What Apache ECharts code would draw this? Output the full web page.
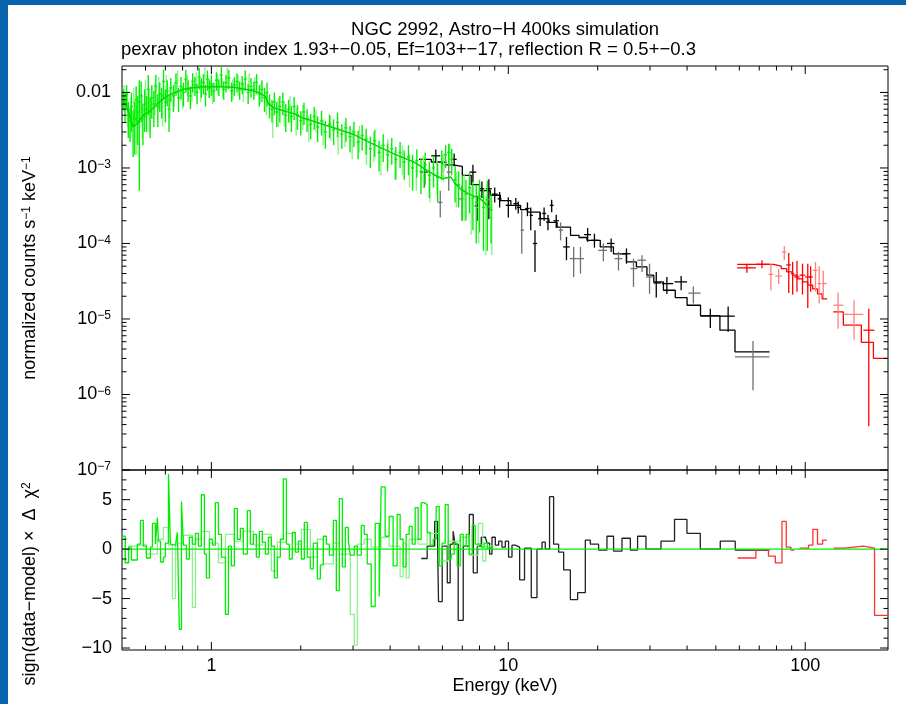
<!DOCTYPE html>
<html lang="en">
<head>
<meta charset="UTF-8">
<title>NGC 2992, Astro-H 400ks simulation</title>
<script src="https://cdn.jsdelivr.net/npm/echarts@6/dist/echarts.min.js"></script>
<style>
  html, body { margin: 0; padding: 0; background: #fff; }
  #main { width: 906px; height: 704px; }
</style>
</head>
<body>
<div id="main"></div>
<script>
// ---- values ----
// soft band (green), flux and 1-sigma error in units of 1e-3 counts/s/keV
var greenE = [0.505,0.512,0.518,0.525,0.532,0.538,0.545,0.552,0.558,0.565,
  0.572,0.58,0.588,0.596,0.605,0.613,0.622,0.63,0.64,0.65,
  0.66,0.67,0.68,0.69,0.70,0.71,0.72,0.73,0.745,0.76,
  0.775,0.79,0.805,0.82,0.835,0.85,0.865,0.88,0.895,0.91,
  0.925,0.94,0.955,0.97,0.985,1.0,1.02,1.04,1.06,1.08,
  1.10,1.12,1.145,1.17,1.195,1.22,1.245,1.27,1.30,1.33,
  1.36,1.39,1.42,1.45,1.48,1.51,1.54,1.57,1.60,1.63,
  1.66,1.70,1.74,1.78,1.82,1.86,1.90,1.95,2.0,2.05,
  2.10,2.16,2.22,2.28,2.35,2.42,2.50,2.58,2.66,2.75,
  2.84,2.93,3.02,3.12,3.22,3.32,3.43,3.55,3.67,3.79,
  3.92,4.05,4.18,4.32,4.46,4.61,4.76,4.92,5.08,5.25,
  5.42,5.6,5.78,5.97,6.15,6.3,6.45,6.62,6.8,7.0,
  7.2,7.4,7.6,7.8,8.0,8.25,8.5,8.75];
var greenF = [8.5,7.0,9.5,5.0,4.2,6.5,3.6,4.5,8.0,5.5,
  7.5,9.0,4.5,7.0,6.0,11.0,5.5,8.5,7.0,12.0,
  6.5,9.5,8.0,14.0,7.5,10.5,6.0,11.5,9.0,13.5,
  8.5,12.0,10.0,15.0,11.0,9.0,14.0,12.5,10.0,16.0,
  12.0,13.5,9.5,15.0,11.5,13.0,10.5,14.5,12.0,17.0,
  11.0,13.5,15.5,10.5,12.5,14.0,11.0,13.0,15.0,10.0,
  12.0,11.0,13.5,9.5,11.0,8.5,10.0,7.0,6.0,7.5,
  5.5,6.5,7.5,5.0,6.0,4.8,6.5,5.0,4.2,5.5,
  4.5,3.8,4.8,3.5,4.2,3.0,3.8,3.2,4.0,2.8,
  3.4,2.6,3.0,2.2,2.7,2.4,1.8,2.3,1.6,2.0,
  1.5,1.8,1.3,1.6,1.2,1.4,1.0,1.25,0.9,1.1,
  0.8,1.0,0.75,1.2,1.5,1.6,1.3,0.7,0.6,0.5,
  0.45,0.55,0.4,0.35,0.42,0.3,0.38,0.28];
var greenErr = [2.5,3.0,3.0,2.5,2.0,3.5,2.2,3.0,4.0,3.5,
  7.0,5.0,2.5,4.0,3.0,6.0,3.0,4.0,3.5,5.0,
  3.0,4.0,3.5,6.0,3.5,4.0,3.0,4.0,3.5,4.5,
  3.0,4.0,3.5,5.0,3.5,3.0,4.0,3.5,3.0,5.0,
  3.5,4.0,3.0,4.5,3.0,4.0,3.0,4.0,3.0,5.0,
  3.0,3.5,4.5,3.0,3.5,4.0,3.0,3.5,4.5,3.0,
  3.5,3.0,4.0,3.0,3.5,3.0,3.5,2.5,2.0,2.5,
  2.0,2.5,2.5,2.0,2.0,1.8,2.2,1.8,1.5,1.8,
  1.5,1.4,1.6,1.3,1.5,1.2,1.3,1.2,1.4,1.0,
  1.2,1.0,1.1,0.9,1.0,0.9,0.8,0.9,0.7,0.8,
  0.6,0.7,0.6,0.6,0.5,0.6,0.5,0.5,0.45,0.5,
  0.4,0.45,0.4,0.5,0.5,0.5,0.5,0.35,0.3,0.3,
  0.25,0.3,0.25,0.25,0.28,0.22,0.3,0.18];

// second soft-band unit (pale green), same units
var paleE = [0.508,0.522,0.535,0.548,0.56,0.585,0.60,0.618,0.645,0.665,
  0.685,0.705,0.725,0.75,0.77,0.80,0.83,0.86,0.89,0.92,
  0.95,0.98,1.01,1.05,1.09,1.13,1.18,1.23,1.28,1.34,
  1.40,1.46,1.53,1.61,1.68,1.76,1.84,1.93,2.03,2.13,
  2.25,2.38,2.52,2.67,2.82,2.98,3.15,3.33,3.52,3.72,
  3.93,4.15,4.4,4.65,4.9,5.17,5.45,5.75,6.05,6.35,
  6.7,7.1,7.5,7.95,8.4,8.8];
var paleF = [9.0,6.5,5.5,7.5,4.0,6.0,9.5,7.0,9.0,11.0,
  6.5,12.0,8.0,10.0,14.5,9.0,13.0,10.5,14.5,11.0,
  16.5,12.0,10.0,13.5,12.0,16.0,11.5,13.0,10.5,14.0,
  12.5,10.0,7.5,5.0,6.0,5.5,6.5,4.5,5.0,3.6,
  4.4,3.2,3.6,2.6,3.0,2.3,2.6,1.9,2.1,1.4,
  1.7,1.2,1.4,1.05,0.9,1.0,0.7,0.85,1.1,1.6,
  0.6,0.5,0.35,0.3,0.25,0.22];
var paleErr = [3.5,3.0,3.0,4.0,2.5,3.5,5.0,4.0,4.0,5.0,
  3.0,5.0,3.5,3.5,5.0,3.0,4.0,3.0,4.5,3.5,
  5.0,3.5,3.0,4.0,3.5,5.0,3.5,4.0,3.0,4.0,
  3.5,3.0,2.5,2.5,2.5,2.0,2.5,1.8,1.8,1.4,
  1.5,1.2,1.3,1.1,1.1,1.0,1.0,0.8,0.9,0.6,
  0.7,0.5,0.6,0.5,0.4,0.45,0.35,0.4,0.45,0.5,
  0.3,0.3,0.22,0.2,0.18,0.15];

// soft-band model curve
var greenModelE = [0.5,0.515,0.53,0.545,0.56,0.59,0.625,0.68,0.71,0.755,0.805,0.86,0.92,1.0,1.19,1.36,1.46,1.52,1.56,1.62,1.68,1.91,2.0,2.23,2.58,3.0,3.35,4.1,4.8,5.6,6.0,6.4,6.6,6.9,7.3,8.05,8.7];
var greenModelF = [8.0e-3,7.0e-3,5.0e-3,3.5e-3,3.8e-3,5.0e-3,5.8e-3,7.9e-3,9.0e-3,1.0e-2,1.1e-2,1.15e-2,1.18e-2,1.2e-2,1.17e-2,1.07e-2,9.8e-3,8.8e-3,7.0e-3,6.3e-3,6.0e-3,5.2e-3,4.7e-3,4.1e-3,3.4e-3,2.8e-3,2.25e-3,1.55e-3,1.2e-3,8.2e-4,7.2e-4,7.6e-4,6.3e-4,5.3e-4,4.6e-4,3.9e-4,2.9e-4];

// hard X-ray, unit 1 (black)
var hxiE   = [5.2,5.7,6.05,6.57,7.6,7.85,8.15,8.6,9.0,9.35,10.0,10.6,10.8,11.6,11.9,12.3,12.8,13.2,13.6,14.0,14.5,15.7,18.5,19.5,22.2,25.0,31.5,34.2,38.2,47.9,55.0];
var hxiElo = [5.05,5.5,5.9,6.45,7.4,7.7,8.0,8.4,8.8,9.2,9.8,10.4,10.7,11.4,11.8,12.1,12.6,13.0,13.4,13.8,14.2,15.3,18.0,19.0,21.5,24.2,30.8,32.9,36.3,44.4,51.6];
var hxiEhi = [5.35,5.9,6.2,6.7,7.8,8.0,8.3,8.8,9.2,9.5,10.2,10.8,11.0,11.8,12.1,12.5,13.0,13.4,13.8,14.2,14.8,16.1,19.0,20.1,22.8,25.8,32.7,35.9,40.0,51.6,57.9];
var hxiF   = [8.8e-4,1.45e-3,1.19e-3,1.3e-3,8.8e-4,3.15e-4,5.3e-4,5.3e-4,4.5e-4,3.9e-4,3.2e-4,3.37e-4,3.0e-4,2.9e-4,2.36e-4,1.0e-4,2.13e-4,2.5e-4,1.92e-4,3.2e-4,2.0e-4,9.0e-5,1.31e-4,1.1e-4,1.0e-4,7.3e-5,3.0e-5,2.94e-5,3.1e-5,1.1e-5,1.09e-5];
var hxiFlo = [5.5e-4,1.15e-3,9.0e-4,1.05e-3,6.5e-4,2.0e-4,4.0e-4,2.1e-4,3.5e-4,3.0e-4,2.2e-4,2.8e-4,2.5e-4,2.3e-4,1.5e-4,4.2e-5,1.7e-4,2.0e-4,1.5e-4,2.6e-4,1.6e-4,6.0e-5,1.05e-4,8.8e-5,7.7e-5,5.4e-5,1.93e-5,2.15e-5,2.4e-5,7.6e-6,6.8e-6];
var hxiFhi = [1.2e-3,1.75e-3,1.5e-3,1.55e-3,1.1e-3,4.3e-4,6.6e-4,7.1e-4,5.5e-4,4.8e-4,4.1e-4,4.0e-4,3.6e-4,3.5e-4,3.0e-4,1.5e-4,2.6e-4,3.0e-4,2.4e-4,3.8e-4,2.4e-4,1.22e-4,1.6e-4,1.35e-4,1.16e-4,8.6e-5,4.2e-5,3.6e-5,3.7e-5,1.37e-5,1.46e-5];

// hard X-ray, unit 2 (grey)
var hxi2E   = [6.3,5.9,6.98,11.1,15.0,16.6,17.5,20.9,23.5,26.4,28.2,29.9,42.0,66.7];
var hxi2Elo = [6.2,5.8,6.8,11.0,14.8,16.1,17.1,20.1,22.8,25.8,27.2,29.1,40.4,58.0];
var hxi2Ehi = [6.45,6.0,7.15,11.3,15.3,17.1,18.0,21.5,24.2,27.2,29.1,30.8,44.4,75.8];
var hxi2F   = [8.8e-4,3.5e-4,3.9e-4,1.5e-4,1.5e-4,6.3e-5,6.3e-5,8.1e-5,6.3e-5,4.65e-5,6.0e-5,3.6e-5,2.2e-5,3.15e-6];
var hxi2Flo = [5.0e-4,2.2e-4,2.0e-4,7.3e-5,1.1e-4,3.6e-5,4.0e-5,5.8e-5,4.4e-5,2.66e-5,4.2e-5,2.15e-5,1.6e-5,1.14e-6];
var hxi2Fhi = [1.25e-3,5.0e-4,5.8e-4,2.75e-4,1.9e-4,9.0e-5,9.0e-5,1.0e-4,7.7e-5,6.3e-5,7.0e-5,5.4e-5,2.7e-5,5.1e-6];

// hard X-ray model (bin edges, value per bin)
var hxiModelEdges = [5.0,5.5,6.0,6.5,7.0,7.5,8.0,8.7,9.4,10.2,11.0,11.6,12.8,13.7,14.6,16.2,17.3,18.4,20.4,22.6,25.0,27.0,29.3,30.9,33.3,36.5,40.0,44.4,51.6,58.0,75.8];
var hxiModelF = [1.3e-3,1.2e-3,1.1e-3,1.05e-3,8.0e-4,6.0e-4,5.0e-4,4.35e-4,3.7e-4,3.2e-4,2.8e-4,2.6e-4,2.13e-4,1.9e-4,1.65e-4,1.28e-4,1.2e-4,1.1e-4,9.0e-5,7.3e-5,5.7e-5,4.9e-5,3.8e-5,3.1e-5,2.4e-5,1.92e-5,1.52e-5,1.1e-5,7.1e-6,3.67e-6];

// soft gamma-ray (red / pale red)
var sgdE   = [63.6,71.5,88.0,90.7,93.8,97.9,102,104.3,163.7];
var sgdElo = [59.0,68.2,86.3,89.5,91.8,95.7,100,103,157];
var sgdEhi = [68.2,75.6,89.5,91.8,95.7,100,104,106,171];
var sgdF   = [4.75e-5,5.3e-5,5.2e-5,4.0e-5,3.6e-5,3.8e-5,3.6e-5,3.6e-5,7.1e-6];
var sgdFlo = [4.1e-5,4.7e-5,2.2e-5,2.1e-5,2.3e-5,2.1e-5,1.4e-5,2.3e-5,3.8e-7];
var sgdFhi = [5.4e-5,6.0e-5,7.5e-5,5.7e-5,5.9e-5,5.4e-5,5.4e-5,5.0e-5,1.37e-5];

var sgd2E   = [76.6,81.4,85.0,108.3,111.4,115,129,146];
var sgd2Elo = [75.2,79.3,83.5,106,110,113.5,124.3,134.4];
var sgd2Ehi = [78.0,83.5,86.3,110,113,118.3,134.4,157];
var sgd2F   = [3.9e-5,3.7e-5,7.7e-5,4.4e-5,2.94e-5,2.94e-5,1.52e-5,1.15e-5];
var sgd2Flo = [2.4e-5,2.9e-5,6.0e-5,2.3e-5,1.6e-5,1.9e-5,7.4e-6,5.3e-6];
var sgd2Fhi = [5.4e-5,4.6e-5,9.2e-5,5.7e-5,5.0e-5,4.4e-5,2.25e-5,1.77e-5];

var sgdModelEdges = [59.0,64.0,71.0,78.3,83.0,86.6,90.5,94.0,98.0,102.0,106.0,110.0,114.0,118.5,124.3,134.4,154.5,169.7,190];
var sgdModelF = [5.3e-5,5.3e-5,5.3e-5,5.0e-5,4.65e-5,4.2e-5,3.8e-5,3.4e-5,3.1e-5,2.8e-5,2.5e-5,2.15e-5,1.85e-5,null,1.24e-5,8.3e-6,4.9e-6,3.0e-6];

// residuals: sign(data-model) x delta chi^2, per bin (edges, values)
var resGreenEdges = [0.500,0.513,0.526,0.538,0.563,0.577,0.590,0.604,0.623,0.633,
  0.648,0.658,0.663,0.674,0.689,0.700,0.717,0.728,0.739,0.757,
  0.768,0.780,0.793,0.805,0.824,0.843,0.863,0.884,0.904,0.925,
  0.947,0.962,0.985,1.008,1.031,1.056,1.081,1.115,1.141,1.168,
  1.195,1.223,1.252,1.281,1.322,1.353,1.385,1.417,1.451,1.485,
  1.520,1.556,1.592,1.630,1.668,1.707,1.747,1.789,1.830,1.873,
  1.918,1.963,2.009,2.056,2.104,2.154,2.205,2.274,2.328,2.383,
  2.439,2.496,2.575,2.635,2.697,2.761,2.826,2.892,2.937,3.029,
  3.100,3.197,3.272,3.349,3.454,3.562,3.674,3.731,3.848,3.969,
  4.094,4.222,4.322,4.424,4.528,4.635,4.744,4.856,4.970,5.087,
  5.207,5.330,5.456,5.584,5.716,5.851,5.989,6.130,6.274,6.422,
  6.573,6.728,6.887,7.049,7.215,7.385,7.560,7.737,7.920,8.106,
  8.297,8.493,8.693,8.898];
var resGreen = [1.3,-1.4,0.2,-1.1,0.5,2.9,0.3,-0.9,0.2,2.6,
  0.5,3.2,0.8,-1.3,-0.8,0.6,7.6,0.5,0.4,0.3,
  1.7,-8.1,4.8,0.4,-1.0,1.2,0.5,1.6,0.3,5.5,
  -0.5,-2.9,1.0,0.4,4.7,1.5,-0.8,-6.6,0.3,-1.7,
  4.1,1.0,2.1,-0.5,3.9,0.5,1.5,-0.8,1.8,0.7,
  -0.5,1.2,0.3,-2.9,-0.8,1.0,7.1,0.5,-1.0,1.7,
  -0.3,0.8,-1.0,2.7,-0.8,-2.0,0.6,-3.0,-1.6,1.3,
  0.5,-0.6,2.9,-4.2,5.1,-1.8,2.2,0.8,-0.6,0.3,
  -0.6,2.4,1.5,-1.5,-5.8,2.6,-4.8,6.3,1.3,3.3,
  -1.7,3.5,1.0,-1.8,1.5,2.3,0.5,4.2,1.0,4.7,
  4.5,1.7,0.4,1.0,4.3,-1.7,0.6,4.5,-1.0,-0.5,
  0.6,-1.7,1.5,0.3,1.5,-0.5,2.4,0.5,0.5,0.2,
  0.6,0.1,0.3];

var resPaleEdges = [0.500,0.513,0.526,0.563,0.604,0.658,0.689,0.717,0.739,0.757,
  0.805,0.863,0.884,0.925,0.985,1.056,1.115,1.195,1.281,1.385,
  1.485,1.592,1.668,1.789,1.918,2.009,2.154,2.274,2.383,2.575,
  2.697,2.937,3.029,3.100,3.272,3.454,3.731,3.969,4.322,4.424,
  4.528,4.635,4.970,5.330,5.851,6.274,6.887,7.385,7.920,8.200,
  8.400,8.898];
var resPale = [1.0,-1.4,0.3,0.5,-0.5,1.0,2.2,0.4,-5.0,0.6,
  1.4,-5.9,1.0,1.8,0.6,-1.4,1.5,0.8,1.8,0.4,
  1.5,-2.2,0.7,1.6,0.5,2.0,-0.8,1.0,-1.5,0.6,
  -0.5,-6.6,-9.7,0.5,1.0,0.2,1.2,0.3,-2.8,0.6,
  -2.9,1.0,0.5,1.6,-1.2,0.8,1.2,-0.6,2.6,-1.2,
  0.3];

var resHxiEdges = [5.09,5.33,5.65,5.78,5.82,5.99,6.23,6.37,6.52,6.62,
  6.78,7.05,7.39,7.62,7.86,8.11,8.37,8.48,8.65,8.81,
  9.04,9.28,9.52,9.77,10.02,10.29,10.56,10.92,11.34,11.95,
  12.49,12.99,13.32,13.77,14.21,14.77,15.36,16.18,17.12,18.17,
  18.89,20.14,21.49,22.62,24.15,25.76,27.25,29.08,32.67,36.29,
  39.96,44.32,51.74,58.12,75.84];
var resHxi = [-0.95,0.3,2.8,0.3,-5.3,0.3,-3.4,0.5,1.8,0.5,
  -7.2,0.3,3.5,-2.4,0.3,1.2,1.3,0.6,-0.5,1.2,
  0.4,0.8,0.2,0.8,-0.8,0.4,0.2,-3.1,0.1,-4.9,
  0,0.7,0,5.3,0.5,-0.3,-2.1,-5.1,-4.4,0.9,
  0.5,-0.1,1.3,-0.2,1.1,-0.1,1.3,0,0.8,3.0,
  1.6,0,0.8,-0.1];

var resSgdEdges = [59.2,68.2,75.2,79.3,83.5,86.3,89.5,91.8,95.7,102.6,106.1,110.0,114.4,118.3,124.5,135.6,157.1,171.2,190];
var resSgd = [-0.9,-0.05,-0.7,-1.4,2.8,0.2,-0.1,null,0.1,0.4,2.0,0.5,0.9,null,0.1,0.3,0.1,-6.7];

// axis ticks
var xMajorTicks = [1, 10, 100];
var xMinorTicks = [0.6,0.7,0.8,0.9,2,3,4,5,6,7,8,9,20,30,40,50,60,70,80,90];
var fluxDecades = [1e-7,1e-6,1e-5,1e-4,1e-3,1e-2];
var decadeSteps = [2,3,4,5,6,7,8,9];
var resMajorTicks = [-10,-5,0,5];
var resMinorTicks = [-9,-8,-7,-6,-4,-3,-2,-1,1,2,3,4,6,7];

var E_MIN = 0.5, E_MAX = 190, Y_MIN = 1e-7, Y_MAX = 0.0224, R_MIN = -10.2, R_MAX = 8;
var FONT = '"Liberation Sans", Arial, sans-serif';
var MINUS = '\u2212';

// ---- helpers ----
function crossItems(e, elo, ehi, f, flo, fhi) {
  return e.map(function (v, i) { return [v, elo[i], ehi[i], f[i], flo[i], fhi[i]]; });
}
function errItems(e, f, err) {
  return e.map(function (v, i) { return [v, f[i] * 1e-3, err[i] * 1e-3]; });
}
function zip(a, b) {
  return a.map(function (v, i) { return [v, b[i]]; });
}
// histogram -> points for a step:'end' line, null values leave a gap
function stepPoints(edges, vals) {
  var pts = [];
  for (var i = 0; i < vals.length; i++) {
    if (vals[i] === null) {
      if (i > 0 && vals[i - 1] !== null) pts.push([edges[i], vals[i - 1]]);
      pts.push([edges[i], null]);
    } else {
      pts.push([edges[i], vals[i]]);
    }
  }
  pts.push([edges[edges.length - 1], vals[vals.length - 1]]);
  return pts;
}
function isDecade(v) {
  var lg = Math.log10(v);
  return Math.abs(lg - Math.round(lg)) < 1e-6;
}

function crossRender(color) {
  return function (params, api) {
    var e = api.value(0), f = api.value(3);
    var flo = Math.max(api.value(4), Y_MIN), fhi = Math.min(api.value(5), Y_MAX);
    var a = api.coord([api.value(1), f]), b = api.coord([api.value(2), f]);
    var c = api.coord([e, flo]), d = api.coord([e, fhi]);
    var st = { stroke: color, lineWidth: 1.3 };
    return { type: 'group', children: [
      { type: 'line', shape: { x1: a[0], y1: a[1], x2: b[0], y2: b[1] }, style: st },
      { type: 'line', shape: { x1: c[0], y1: c[1], x2: d[0], y2: d[1] }, style: st }
    ] };
  };
}
function errRender(color) {
  return function (params, api) {
    var e = api.value(0), f = api.value(1), err = api.value(2);
    var lo = Math.max(f - err, Y_MIN), hi = Math.min(f + err, Y_MAX);
    var p = api.coord([e, f]), c = api.coord([e, lo]), d = api.coord([e, hi]);
    var st = { stroke: color, lineWidth: 1.4 };
    return { type: 'group', children: [
      { type: 'line', shape: { x1: p[0] - 1.5, y1: p[1], x2: p[0] + 1.5, y2: p[1] }, style: st },
      { type: 'line', shape: { x1: c[0], y1: c[1], x2: d[0], y2: d[1] }, style: st }
    ] };
  };
}
// inward tick marks on both opposite frame edges
function xTickRender(params, api) {
  var cs = params.coordSys;
  var p = api.coord([api.value(0), api.value(1)]);
  var len = api.value(2) ? 8 : 4.5;
  var st = { stroke: '#000', lineWidth: 1 };
  return { type: 'group', children: [
    { type: 'line', shape: { x1: p[0], y1: cs.y, x2: p[0], y2: cs.y + len }, style: st },
    { type: 'line', shape: { x1: p[0], y1: cs.y + cs.height, x2: p[0], y2: cs.y + cs.height - len }, style: st }
  ] };
}
function yTickRender(params, api) {
  var cs = params.coordSys;
  var p = api.coord([api.value(0), api.value(1)]);
  var len = api.value(2) ? 8 : 4.5;
  var st = { stroke: '#000', lineWidth: 1 };
  return { type: 'group', children: [
    { type: 'line', shape: { x1: cs.x, y1: p[1], x2: cs.x + len, y2: p[1] }, style: st },
    { type: 'line', shape: { x1: cs.x + cs.width, y1: p[1], x2: cs.x + cs.width - len, y2: p[1] }, style: st }
  ] };
}
// horizontal reference line across the whole panel at the item's y value
function zeroRender(params, api) {
  var cs = params.coordSys;
  var p = api.coord([api.value(0), api.value(1)]);
  return { type: 'line', shape: { x1: cs.x, y1: p[1], x2: cs.x + cs.width, y2: p[1] },
    style: { stroke: '#00ee00', lineWidth: 1.3 } };
}

function xTickData(yRef) {
  return xMajorTicks.map(function (v) { return [v, yRef, 1]; })
    .concat(xMinorTicks.map(function (v) { return [v, yRef, 0]; }));
}
var fluxTicks = fluxDecades.map(function (v) { return [1, v, 1]; });
fluxDecades.forEach(function (d) {
  decadeSteps.forEach(function (m) {
    if (m * d < Y_MAX) fluxTicks.push([1, m * d, 0]);
  });
});
var resTicks = resMajorTicks.map(function (v) { return [1, v, 1]; })
  .concat(resMinorTicks.map(function (v) { return [1, v, 0]; }));

var supStyle = { fontSize: 12, fontFamily: FONT, color: '#000', verticalAlign: 'top' };

var myChart = echarts.init(document.getElementById('main'));

myChart.setOption({
  animation: false,
  backgroundColor: '#fff',
  title: [{
    text: 'NGC 2992, Astro\u2212H 400ks simulation',
    left: 505, top: 20, textAlign: 'center', padding: 0,
    textStyle: { fontSize: 18.5, fontWeight: 'normal', color: '#000', fontFamily: FONT }
  }, {
    text: 'pexrav photon index 1.93+\u22120.05, Ef=103+\u221217, reflection R = 0.5+\u22120.3',
    left: 121, top: 40, padding: 0,
    textStyle: { fontSize: 18.5, fontWeight: 'normal', color: '#000', fontFamily: FONT }
  }],
  graphic: [
    { type: 'rect', shape: { x: 0, y: 0, width: 906, height: 5 }, style: { fill: '#0a63ad' } },
    { type: 'rect', shape: { x: 0, y: 0, width: 8, height: 704 }, style: { fill: '#0a63ad' } },
    { type: 'text', x: 30, y: 268, rotation: Math.PI / 2,
      style: { text: 'normalized counts s{sup|' + MINUS + '1} keV{sup|' + MINUS + '1}',
        font: '18px ' + FONT, fill: '#000', align: 'center', verticalAlign: 'middle',
        rich: { sup: supStyle } } },
    { type: 'text', x: 30, y: 584, rotation: Math.PI / 2,
      style: { text: 'sign(data' + MINUS + 'model) \u00d7  \u0394  \u03c7{sup|2}',
        font: '18px ' + FONT, fill: '#000', align: 'center', verticalAlign: 'middle',
        rich: { sup: supStyle } } }
  ],
  grid: [
    { left: 122, top: 66, width: 766, height: 404, show: true, borderColor: '#000', borderWidth: 1 },
    { left: 122, top: 470, width: 766, height: 180, show: true, borderColor: '#000', borderWidth: 1 }
  ],
  xAxis: [{
    gridIndex: 0, type: 'log', logBase: 10, min: E_MIN, max: E_MAX,
    axisLine: { show: false }, axisTick: { show: false }, axisLabel: { show: false },
    splitLine: { show: false }
  }, {
    gridIndex: 1, type: 'log', logBase: 10, min: E_MIN, max: E_MAX,
    axisLine: { show: false }, axisTick: { show: false }, splitLine: { show: false },
    axisLabel: {
      fontSize: 18, color: '#000', fontFamily: FONT, margin: 7,
      showMinLabel: false, showMaxLabel: false,
      formatter: function (v) { return isDecade(v) ? String(Math.round(v)) : ''; }
    },
    name: 'Energy (keV)', nameLocation: 'middle', nameGap: 27,
    nameTextStyle: { fontSize: 18, color: '#000', fontFamily: FONT }
  }],
  yAxis: [{
    gridIndex: 0, type: 'log', logBase: 10, min: Y_MIN, max: Y_MAX,
    axisLine: { show: false }, axisTick: { show: false }, splitLine: { show: false },
    axisLabel: {
      fontSize: 18, color: '#000', fontFamily: FONT, margin: 11,
      rich: { sup: supStyle },
      formatter: function (v) {
        if (!isDecade(v)) return '';
        var n = Math.round(Math.log10(v));
        if (n === -2) return '0.01';
        return '10{sup|' + MINUS + (-n) + '}';
      }
    }
  }, {
    gridIndex: 1, type: 'value', min: R_MIN, max: R_MAX, splitNumber: 4,
    axisLine: { show: false }, axisTick: { show: false }, splitLine: { show: false },
    axisLabel: {
      fontSize: 18, color: '#000', fontFamily: FONT, margin: 10,
      formatter: function (v) {
        if (resMajorTicks.indexOf(v) < 0) return '';
        return v < 0 ? MINUS + (-v) : String(v);
      }
    }
  }],
  series: [
    // ---- spectrum panel ----
    { type: 'line', name: 'hxi model', xAxisIndex: 0, yAxisIndex: 0, step: 'end',
      data: stepPoints(hxiModelEdges, hxiModelF), showSymbol: false, z: 2,
      lineStyle: { color: '#000', width: 1.3 } },
    { type: 'custom', name: 'hxi2', xAxisIndex: 0, yAxisIndex: 0, z: 3,
      encode: { x: 0, y: 3 }, renderItem: crossRender('#707070'),
      data: crossItems(hxi2E, hxi2Elo, hxi2Ehi, hxi2F, hxi2Flo, hxi2Fhi) },
    { type: 'custom', name: 'hxi', xAxisIndex: 0, yAxisIndex: 0, z: 3,
      encode: { x: 0, y: 3 }, renderItem: crossRender('#000'),
      data: crossItems(hxiE, hxiElo, hxiEhi, hxiF, hxiFlo, hxiFhi) },
    { type: 'line', name: 'sgd model', xAxisIndex: 0, yAxisIndex: 0, step: 'end',
      data: stepPoints(sgdModelEdges, sgdModelF), showSymbol: false, z: 2,
      lineStyle: { color: '#ff0000', width: 1.3 } },
    { type: 'custom', name: 'sgd2', xAxisIndex: 0, yAxisIndex: 0, z: 3,
      encode: { x: 0, y: 3 }, renderItem: crossRender('#ff8080'),
      data: crossItems(sgd2E, sgd2Elo, sgd2Ehi, sgd2F, sgd2Flo, sgd2Fhi) },
    { type: 'custom', name: 'sgd', xAxisIndex: 0, yAxisIndex: 0, z: 3,
      encode: { x: 0, y: 3 }, renderItem: crossRender('#ff0000'),
      data: crossItems(sgdE, sgdElo, sgdEhi, sgdF, sgdFlo, sgdFhi) },
    { type: 'custom', name: 'soft2', xAxisIndex: 0, yAxisIndex: 0, z: 4,
      encode: { x: 0, y: 1 }, renderItem: errRender('#8df08d'),
      data: errItems(paleE, paleF, paleErr) },
    { type: 'custom', name: 'soft', xAxisIndex: 0, yAxisIndex: 0, z: 5,
      encode: { x: 0, y: 1 }, renderItem: errRender('#00f000'),
      data: errItems(greenE, greenF, greenErr) },
    { type: 'line', name: 'soft model', xAxisIndex: 0, yAxisIndex: 0,
      data: zip(greenModelE, greenModelF), showSymbol: false, z: 6,
      lineStyle: { color: '#00d800', width: 1.5 } },
    { type: 'custom', xAxisIndex: 0, yAxisIndex: 0, z: 10, silent: true,
      encode: { x: 0, y: 1 }, renderItem: xTickRender, data: xTickData(1e-4) },
    { type: 'custom', xAxisIndex: 0, yAxisIndex: 0, z: 10, silent: true,
      encode: { x: 0, y: 1 }, renderItem: yTickRender, data: fluxTicks },

    // ---- residual panel ----
    { type: 'line', name: 'hxi res', xAxisIndex: 1, yAxisIndex: 1, step: 'end',
      data: stepPoints(resHxiEdges, resHxi), showSymbol: false, z: 2,
      lineStyle: { color: '#222', width: 1.3 } },
    { type: 'line', name: 'sgd res', xAxisIndex: 1, yAxisIndex: 1, step: 'end',
      data: stepPoints(resSgdEdges, resSgd), showSymbol: false, z: 2,
      lineStyle: { color: '#ff3030', width: 1.3 } },
    { type: 'line', name: 'soft2 res', xAxisIndex: 1, yAxisIndex: 1, step: 'end',
      data: stepPoints(resPaleEdges, resPale), showSymbol: false, z: 3,
      lineStyle: { color: '#8df08d', width: 1.3 } },
    { type: 'line', name: 'soft res', xAxisIndex: 1, yAxisIndex: 1, step: 'end',
      data: stepPoints(resGreenEdges, resGreen), showSymbol: false, z: 4,
      lineStyle: { color: '#00ee00', width: 1.3 } },
    { type: 'custom', name: 'zero', xAxisIndex: 1, yAxisIndex: 1, z: 6, silent: true,
      encode: { x: 0, y: 1 }, renderItem: zeroRender, data: [[1, 0]] },
    { type: 'custom', xAxisIndex: 1, yAxisIndex: 1, z: 10, silent: true,
      encode: { x: 0, y: 1 }, renderItem: xTickRender, data: xTickData(0) },
    { type: 'custom', xAxisIndex: 1, yAxisIndex: 1, z: 10, silent: true,
      encode: { x: 0, y: 1 }, renderItem: yTickRender, data: resTicks }
  ]
});
</script>
</body>
</html>
